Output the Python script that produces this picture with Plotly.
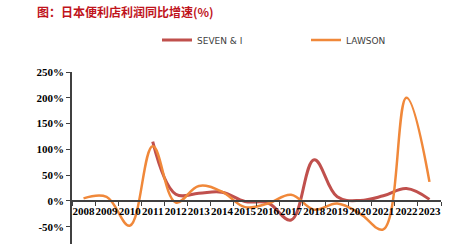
import plotly.graph_objects as go

years = [str(y) for y in range(2008, 2024)]
seven_i = [None, None, None, 115, 13, 15, 17, -1, -4, -37, 80, 8, 1, 10, 24, 3]
lawson = [5, 8, -48, 106, -3, 29, 18, -12, -5, 12, -17, -5, -25, -55, 200, 37]
y_ticks = [-50, 0, 50, 100, 150, 200, 250]
y_labels = ["-50%", "0%", "50%", "100%", "150%", "200%", "250%"]

ymin, ymax = -83.5, 250
serif = "Liberation Serif"

fig = go.Figure()
fig.add_trace(go.Scatter(x=years, y=seven_i, name="SEVEN & I", mode="lines",
                         line=dict(color="#C0504D", width=3, shape="spline", smoothing=1.1),
                         connectgaps=False, legend="legend", showlegend=True))
fig.add_trace(go.Scatter(x=years, y=lawson, name="LAWSON", mode="lines",
                         line=dict(color="#F0883A", width=2.5, shape="spline", smoothing=1.1),
                         legend="legend2", showlegend=True))

leg_font = dict(family="DejaVu Sans", size=9, color="#404040")
fig.update_layout(
    width=454, height=244,
    showlegend=True,
    margin=dict(l=72, r=13, t=72, b=0),
    paper_bgcolor="white", plot_bgcolor="white",
    title=dict(text="<b>图：日本便利店利润同比增速(%)</b>", x=37/454, xanchor="left",
               y=1 - 13/244, yanchor="middle",
               font=dict(family="Noto Sans CJK SC", size=12, color="#C0141C")),
    legend=dict(orientation="h", x=(157 - 72) / 369, xanchor="left", y=1 + 32/172,
                yanchor="middle", font=leg_font, bgcolor="rgba(0,0,0,0)"),
    legend2=dict(orientation="h", x=(306 - 72) / 369, xanchor="left", y=1 + 32/172,
                 yanchor="middle", font=leg_font, bgcolor="rgba(0,0,0,0)"),
    xaxis=dict(type="category", range=[-0.5, 15.5], anchor="free",
               position=(0 - ymin) / (ymax - ymin),
               showline=True, linecolor="#404040", linewidth=1.5,
               ticks="outside", tickson="boundaries", ticklen=4, tickcolor="#404040",
               tickangle=0,
               showgrid=False, zeroline=False,
               tickfont=dict(family=serif, size=11, color="black", weight="bold")),
    yaxis=dict(range=[ymin, ymax], domain=[0, 1], tickvals=y_ticks, ticktext=y_labels,
               showline=True, linecolor="#404040", linewidth=1.5,
               ticks="outside", ticklen=4, tickcolor="#404040",
               showgrid=False, zeroline=False,
               tickfont=dict(family=serif, size=11, color="black", weight="bold")),
)

fig.write_html("out.html")
